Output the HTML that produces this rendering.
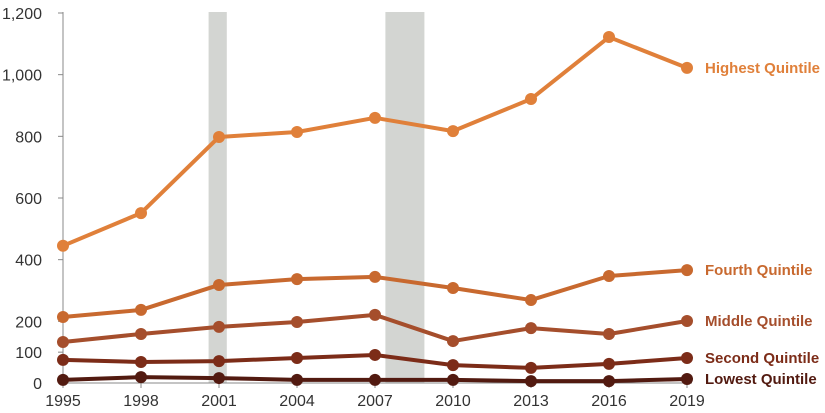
<!DOCTYPE html>
<html><head><meta charset="utf-8"><style>
html,body{margin:0;padding:0;background:#fff;}
svg{display:block;font-family:"Liberation Sans",sans-serif;}
</style></head><body>
<svg id="chart" width="825" height="413"></svg>
<script>
const years=[1995,1998,2001,2004,2007,2010,2013,2016,2019];
const highest=[445,551,798,814,860,817,921,1122,1022];
const fourth=[214,237,318,337,344,308,269,347,366];
const middle=[133,159,182,198,221,136,178,159,201];
const second=[75,68,71,81,91,58,49,62,81];
const lowest=[10,19,16,10,10,10,6,6,13];
const yTicks=[0,100,200,400,600,800,1000,1200];
const yTickLabels=["0","100","200","400","600","800","1,000","1,200"];
const recessions=[[2000.6,2001.3],[2007.4,2008.9]];
const seriesNames=["Highest Quintile","Fourth Quintile","Middle Quintile","Second Quintile","Lowest Quintile"];
const seriesData=[highest,fourth,middle,second,lowest];
const colors=["#e0803a","#c8692f","#a54e2c","#7c2c18","#521a10"];
const keys=["highest","fourth","middle","second","lowest"];

const NS="http://www.w3.org/2000/svg";
const svg=document.getElementById('chart');
const x=v=>63+(v-1995)*26;
const y=v=>383-v*(370/1200);
function mk(t,a,p){const e=document.createElementNS(NS,t);for(const k in a)e.setAttribute(k,a[k]);(p||svg).appendChild(e);return e;}

recessions.forEach((r,i)=>{
  const e=mk('rect',{x:x(r[0]),y:12,width:x(r[1])-x(r[0]),height:371,fill:'#d3d5d2'});
  
  
});
const ya=mk('line',{x1:63,y1:12,x2:63,y2:383,stroke:'#888','stroke-width':1});


const xa=mk('line',{x1:63,y1:383,x2:692,y2:383,stroke:'#888','stroke-width':1});


yTicks.forEach((t,i)=>{
  mk('line',{x1:58,y1:y(t),x2:63,y2:y(t),stroke:'#888'});
  const e=mk('text',{x:42,y:y(t)+6,'text-anchor':'end','font-size':16,fill:'#333'});
  e.textContent=yTickLabels[i];
  
  
});
years.forEach(yr=>{
  mk('line',{x1:x(yr),y1:383,x2:x(yr),y2:388,stroke:'#888'});
  const e=mk('text',{x:x(yr),y:406,'text-anchor':'middle','font-size':16,fill:'#333'});
  e.textContent=yr;
  
  
});
seriesData.forEach((d,s)=>{
  const g=mk('g',{});
  
  
  mk('polyline',{points:d.map((v,i)=>x(years[i])+','+y(v)).join(' '),fill:'none',stroke:colors[s],'stroke-width':4,'stroke-linejoin':'round'},g);
  d.forEach((v,i)=>{
    const c=mk('circle',{cx:x(years[i]),cy:y(v),r:6,fill:colors[s]},g);
    
    
  });
  const t=mk('text',{x:705,y:y(d[d.length-1])+5,'font-size':15,'font-weight':'bold',fill:colors[s]});
  t.textContent=seriesNames[s];
  
  
});
</script>
</body></html>
